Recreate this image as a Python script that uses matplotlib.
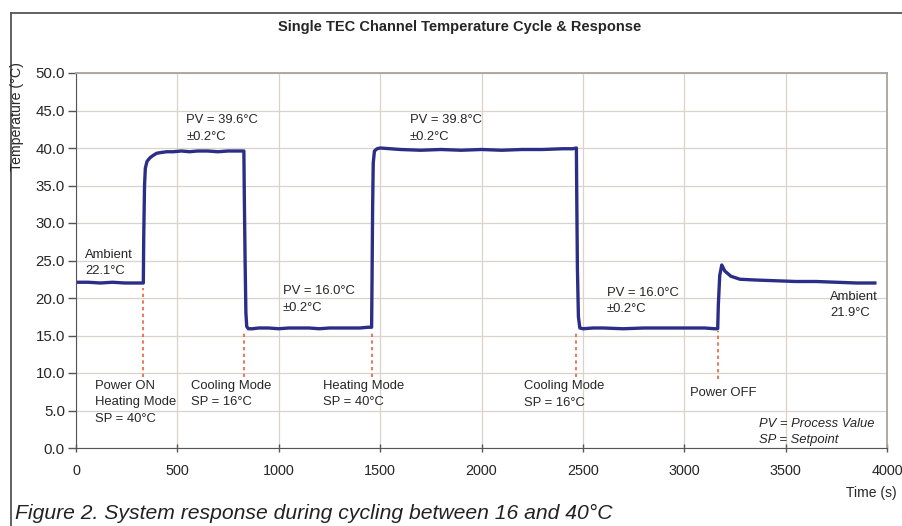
import matplotlib
matplotlib.use("Agg")
import matplotlib.pyplot as plt
from matplotlib.lines import Line2D
from matplotlib.ticker import FormatStrFormatter

plt.rcParams["font.family"] = ["Liberation Sans", "DejaVu Sans"]

time_s = [0, 60, 120, 180, 240, 300, 332,
          334, 338, 342, 350, 365, 380, 398, 420, 447, 480, 520, 560, 600,
          650, 700, 750, 800, 828,
          830, 834, 838, 842, 850, 870, 900, 950, 1000, 1050, 1100, 1150,
          1200, 1250, 1300, 1350, 1400, 1440, 1458,
          1460, 1463, 1466, 1472, 1485, 1500, 1550, 1600, 1700, 1800, 1900,
          2000, 2100, 2200, 2300, 2400, 2450, 2468,
          2470, 2473, 2478, 2485, 2500, 2550, 2600, 2700, 2800, 2900, 3000,
          3100, 3150, 3165,
          3168, 3175, 3185, 3200, 3230, 3275, 3350, 3450, 3550, 3650, 3750,
          3850, 3940]
temp_c = [22.1, 22.1, 22.0, 22.1, 22.0, 22.0, 22.0,
          28.0, 35.0, 37.3, 38.2, 38.7, 39.0, 39.3, 39.4, 39.5, 39.5, 39.6, 39.5, 39.6,
          39.6, 39.5, 39.6, 39.6, 39.6,
          34.0, 25.0, 18.0, 16.2, 15.9, 15.9, 16.0, 16.0, 15.9, 16.0, 16.0, 16.0,
          15.9, 16.0, 16.0, 16.0, 16.0, 16.1, 16.1,
          22.0, 32.0, 38.0, 39.6, 39.9, 40.0, 39.9, 39.8, 39.7, 39.8, 39.7,
          39.8, 39.7, 39.8, 39.8, 39.9, 39.9, 40.0,
          33.0, 24.0, 17.5, 16.0, 15.9, 16.0, 16.0, 15.9, 16.0, 16.0, 16.0,
          16.0, 15.9, 15.9,
          19.0, 23.0, 24.4, 23.6, 22.9, 22.5, 22.4, 22.3, 22.2, 22.2, 22.1,
          22.0, 22.0]

# mode change events (dotted markers)
event_t = [332, 830, 1460, 2468, 3166]
event_top = [21.3, 15.6, 15.6, 15.6, 15.6]
event_bottom = [9.5, 9.5, 9.5, 9.5, 9.2]

notes = ["Ambient\n22.1°C", "PV = 39.6°C\n±0.2°C", "PV = 16.0°C\n±0.2°C",
         "PV = 39.8°C\n±0.2°C", "PV = 16.0°C\n±0.2°C", "Ambient\n21.9°C",
         "Power ON\nHeating Mode\nSP = 40°C", "Cooling Mode\nSP = 16°C",
         "Heating Mode\nSP = 40°C", "Cooling Mode\nSP = 16°C", "Power OFF"]
note_x = [44, 543, 1019, 1647, 2617, 3719, 94, 567, 1220, 2210, 3028]
note_y = [26.6, 44.5, 21.7, 44.5, 21.5, 21.0, 9.1, 9.1, 9.1, 9.0, 8.2]

fig = plt.figure(figsize=(9.02, 5.26), dpi=100)
ax = fig.add_axes([76 / 902, 1 - 448 / 526, 811 / 902, 375 / 526])

ax.plot(time_s, temp_c, color="#2b2e86", lw=2.4, solid_joinstyle="round")
ax.vlines(event_t, event_bottom, event_top, colors="#e8643c", lw=1.2,
          linestyles=(0, (2, 2)))

txt = "#262626"
for s, x, y in zip(notes, note_x, note_y):
    ax.text(x, y, s, fontsize=9.4, color=txt, va="top", ha="left",
            linespacing=1.5)
ax.text(3370, 4.0, "PV = Process Value\nSP = Setpoint", fontsize=9.4,
        style="italic", color=txt, va="top", ha="left", linespacing=1.4)

ax.set_xlim(0, 4000)
ax.set_ylim(0, 50)
ax.set_xticks(range(0, 4001, 500))
ax.set_yticks(range(0, 51, 5))
ax.yaxis.set_major_formatter(FormatStrFormatter("%.1f"))
ax.grid(True, color="#d9d3cc", lw=0.9)
ax.set_axisbelow(True)
ax.tick_params(axis="y", direction="out", length=5.5, width=1, color="#555555",
               labelsize=10.8, labelcolor=txt, pad=2.5)
ax.tick_params(axis="x", direction="inout", length=5.5, width=1, color="#555555",
               labelsize=10.4, labelcolor=txt, pad=9)
for side in ["left", "bottom"]:
    ax.spines[side].set_color("#555555")
for side in ["top", "right"]:
    ax.spines[side].set_color("#aaa39b")
    ax.spines[side].set_linewidth(1.3)

fig.text(460 / 902, 1 - 27 / 526, "Single TEC Channel Temperature Cycle & Response",
         fontsize=10.5, fontweight="bold", color=txt, ha="center", va="center")
fig.text(17 / 902, 1 - 62 / 526, "Temperature (°C)", fontsize=10.2, color=txt,
         rotation=90, ha="center", va="top")
fig.text(897 / 902, 1 - 493 / 526, "Time (s)", fontsize=10, color=txt,
         ha="right", va="center")
fig.text(15 / 902, 1 - 513 / 526,
         "Figure 2. System response during cycling between 16 and 40°C",
         fontsize=15.2, style="italic", color="#222222", ha="left", va="center")

# outer frame of the figure panel
fig.add_artist(Line2D([11 / 902, 1], [1 - 13 / 526] * 2, color="#555555", lw=1.3))
fig.add_artist(Line2D([11 / 902] * 2, [0, 1 - 13 / 526], color="#555555", lw=1.3))

fig.savefig("out.png", dpi=100)
